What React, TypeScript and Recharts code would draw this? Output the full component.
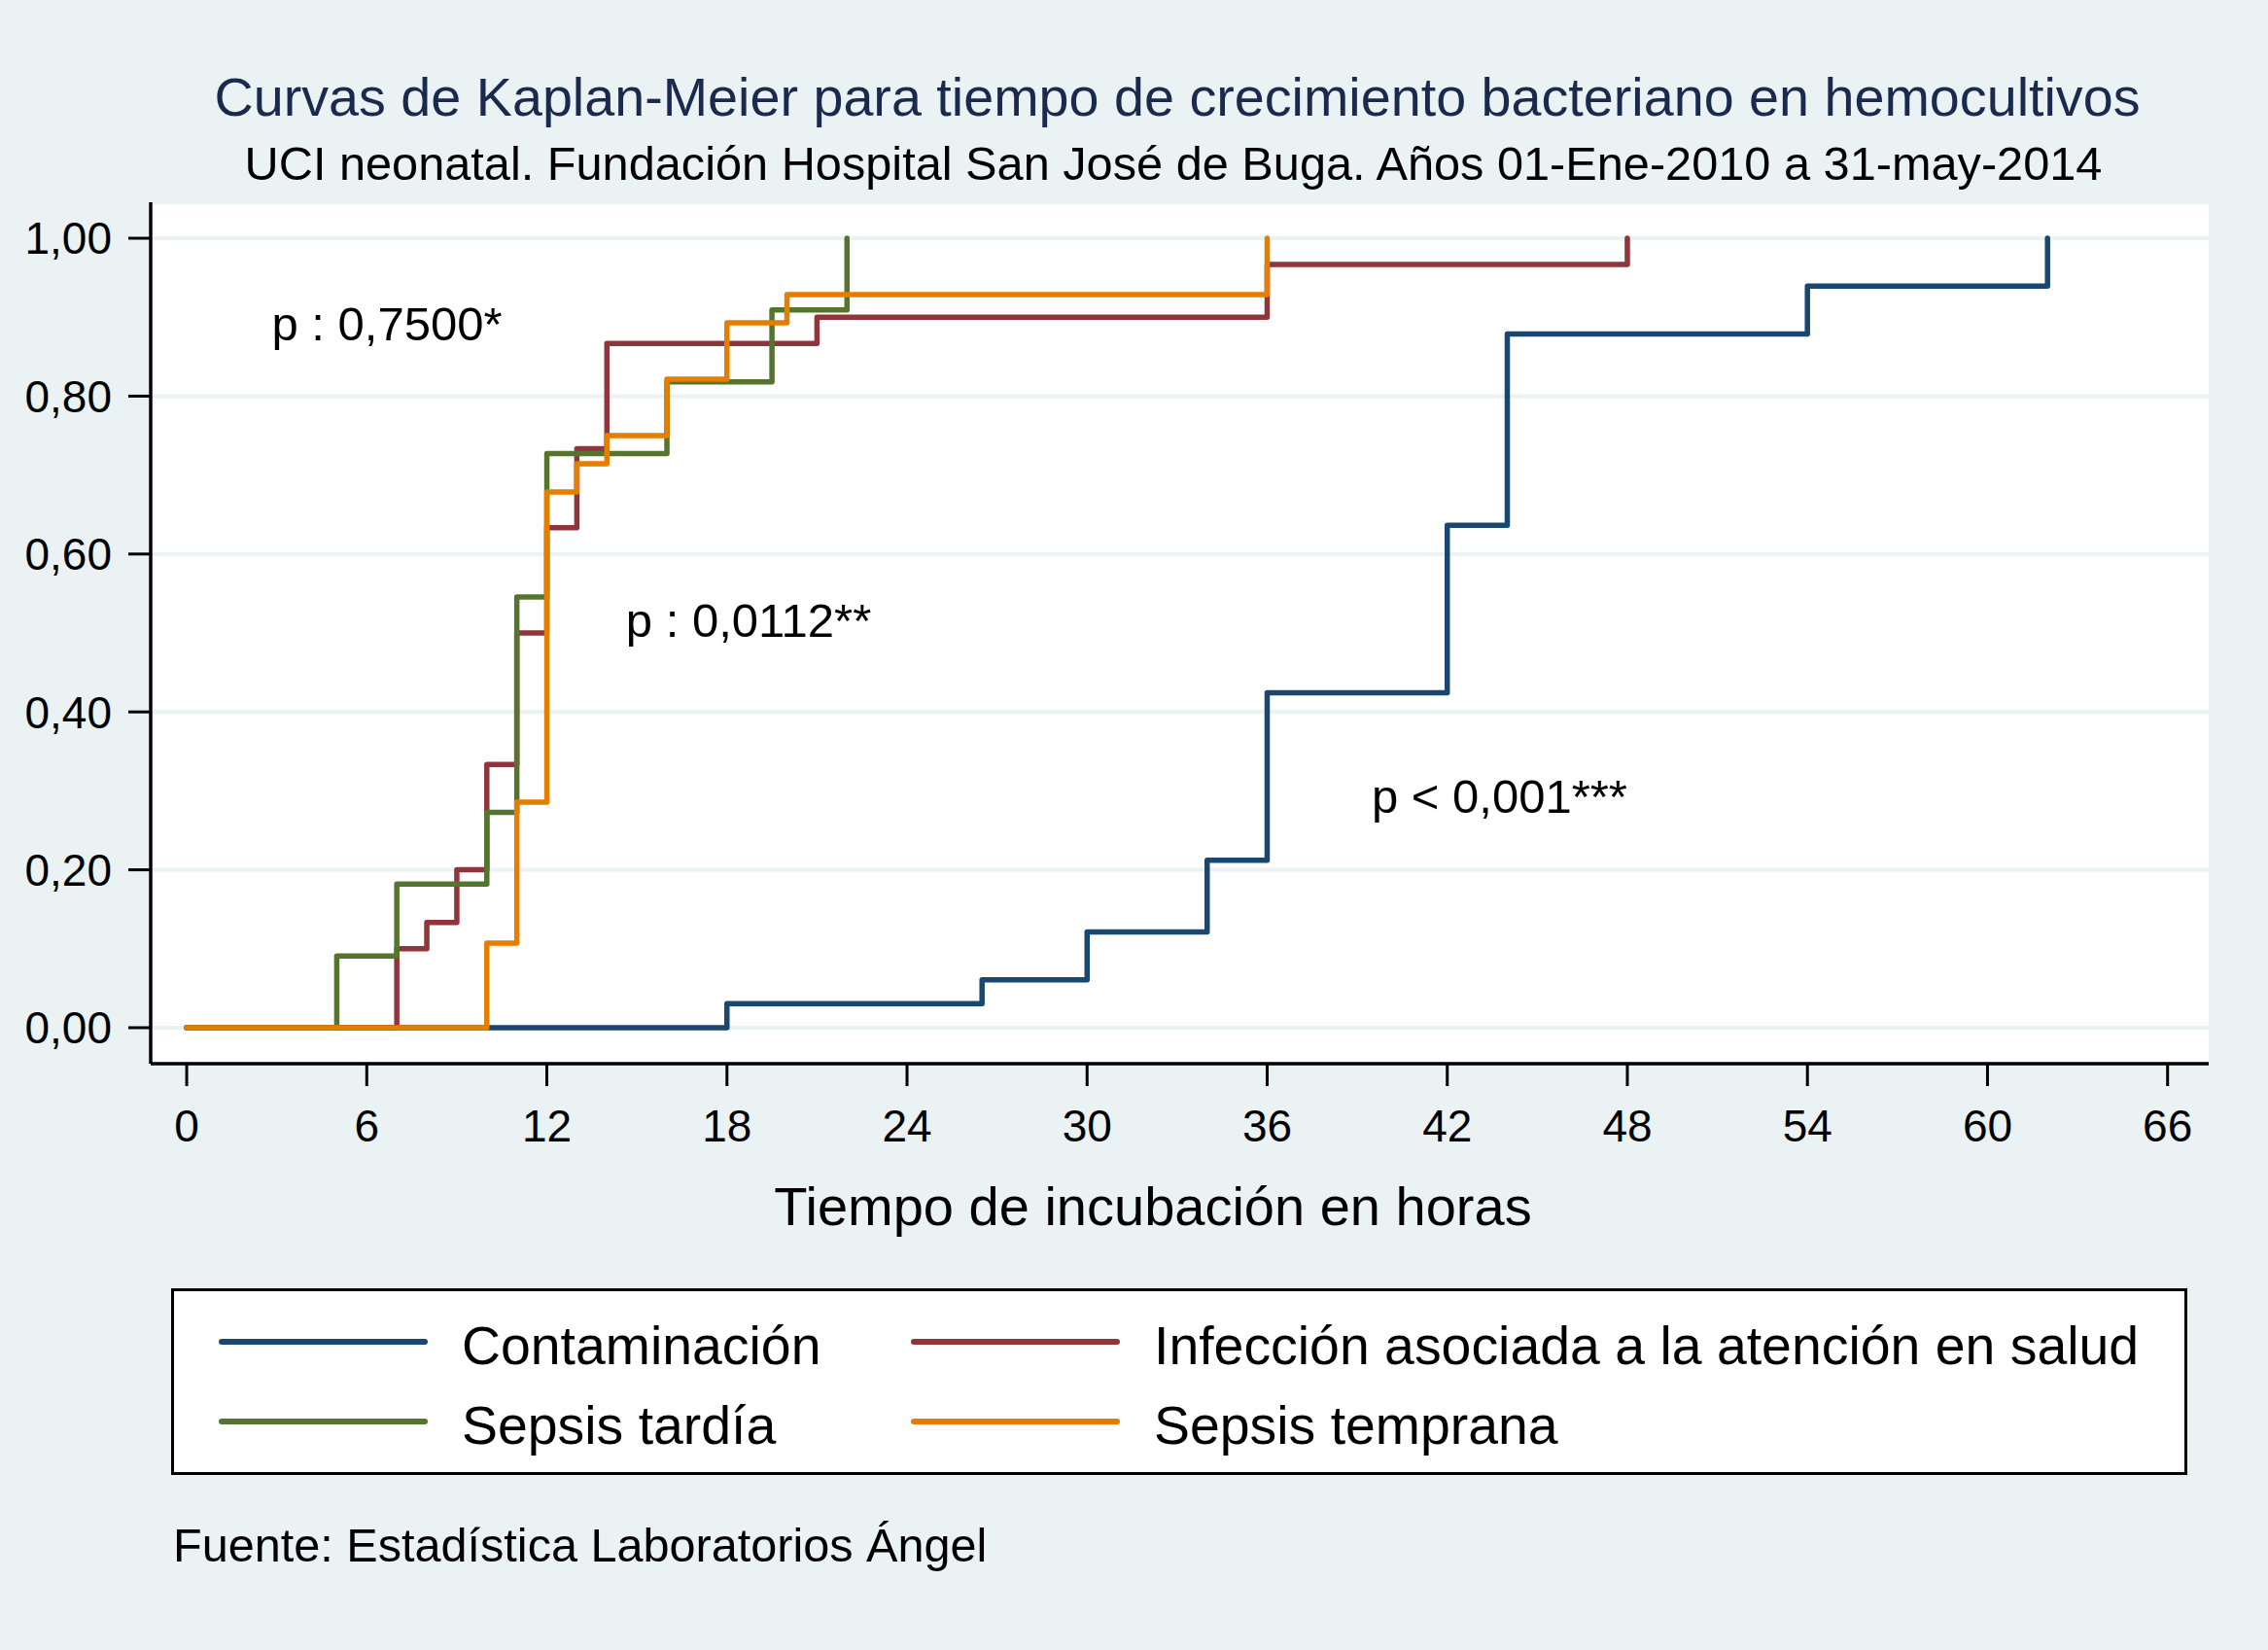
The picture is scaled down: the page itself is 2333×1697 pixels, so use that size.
import { LineChart, Line, XAxis, YAxis, CartesianGrid, ReferenceDot } from "recharts";

const W = 2333;
const H = 1697;
const FONT = '"Liberation Sans", Arial, Helvetica, sans-serif';
const BG = "#eaf2f3";

// hours of incubation at which the cumulative proportion steps up
const contaminacionT = [0, 18, 26.5, 30, 34, 36, 42, 44, 54, 62];
const contaminacionF = [0, 0.0303, 0.0606, 0.1212, 0.2121, 0.4242, 0.6364, 0.8788, 0.9394, 1.0];

const infeccionT = [0, 7, 8, 9, 10, 11, 12, 13, 14, 21, 36, 48];
const infeccionF = [0, 0.1, 0.1333, 0.2, 0.3333, 0.5, 0.6333, 0.7333, 0.8667, 0.9, 0.9667, 1.0];

const tardiaT = [0, 5, 7, 10, 11, 12, 16, 19.5, 22];
const tardiaF = [0, 0.0909, 0.1818, 0.2727, 0.5455, 0.7273, 0.8182, 0.9091, 1.0];

const tempranaT = [0, 10, 11, 12, 13, 14, 16, 18, 20, 36];
const tempranaF = [0, 0.1071, 0.2857, 0.6786, 0.7143, 0.75, 0.8214, 0.8929, 0.9286, 1.0];

const SERIES_NAMES = [
  "Contaminación",
  "Infección asociada a la atención en salud",
  "Sepsis tardía",
  "Sepsis temprana",
];
const SERIES_COLORS = ["#1a476f", "#90353b", "#55752f", "#e37e00"];

const HOUR_TICKS = [0, 6, 12, 18, 24, 30, 36, 42, 48, 54, 60, 66];
const PROB_TICKS = [0, 0.2, 0.4, 0.6, 0.8, 1.0];

const PVAL_TEXT = ["p : 0,7500*", "p : 0,0112**", "p < 0,001***"];
const PVAL_AT: [number, number][] = [
  [2.8, 0.892],
  [14.6, 0.516],
  [39.45, 0.294],
];

const toPoints = (ts: number[], fs: number[]) => ts.map((t, i) => ({ t, f: fs[i] }));

const SERIES = [
  toPoints(contaminacionT, contaminacionF),
  toPoints(infeccionT, infeccionF),
  toPoints(tardiaT, tardiaF),
  toPoints(tempranaT, tempranaF),
];

// place text by horizontal anchor and the vertical middle of its capitals
function TextAt({
  x,
  cy,
  size,
  children,
  center = false,
  color = "#000",
}: {
  x: number;
  cy: number;
  size: number;
  children: React.ReactNode;
  center?: boolean;
  color?: string;
}) {
  return (
    <div
      style={{
        position: "absolute",
        left: x,
        top: cy - 0.49 * size,
        fontSize: size,
        lineHeight: 1,
        color,
        whiteSpace: "nowrap",
        transform: center ? "translateX(-50%)" : undefined,
      }}
    >
      {children}
    </div>
  );
}

function LegendItem({ i, x, cy }: { i: number; x: number; cy: number }) {
  return (
    <>
      <div
        style={{
          position: "absolute",
          left: x,
          top: cy - 2.75,
          width: 215,
          height: 5.5,
          borderRadius: 3,
          background: SERIES_COLORS[i],
        }}
      />
      <TextAt x={x + 250} cy={cy + 4} size={55.4}>
        {SERIES_NAMES[i]}
      </TextAt>
    </>
  );
}

export default function App() {
  return (
    <div
      style={{
        position: "absolute",
        left: 0,
        top: 0,
        width: W,
        height: H,
        background: BG,
        fontFamily: FONT,
        overflow: "hidden",
      }}
    >
      <TextAt x={1211} cy={100} size={55.7} center color="#1a2a4e">
        Curvas de Kaplan-Meier para tiempo de crecimiento bacteriano en hemocultivos
      </TextAt>
      <TextAt x={1207} cy={168} size={48.7} center>
        UCI neonatal. Fundación Hospital San José de Buga. Años 01-Ene-2010 a 31-may-2014
      </TextAt>

      <div style={{ position: "absolute", left: 0, top: 0 }}>
        <LineChart width={W} height={H} margin={{ top: 208, right: 61, bottom: 483, left: 0 }}>
          <CartesianGrid vertical={false} stroke={BG} strokeWidth={4} fill="#ffffff" fillOpacity={1} />
          <XAxis
            type="number"
            dataKey="t"
            domain={[-1.2, 67.37]}
            allowDataOverflow
            ticks={HOUR_TICKS}
            interval={0}
            height={120}
            tickSize={23}
            tickMargin={24}
            tick={{ fontSize: 46, fill: "#000", fontFamily: FONT }}
            axisLine={{ stroke: "#000", strokeWidth: 3.5 }}
            tickLine={{ stroke: "#000", strokeWidth: 3 }}
          />
          <YAxis
            type="number"
            domain={[-0.0456, 1.0456]}
            allowDataOverflow
            ticks={PROB_TICKS}
            interval={0}
            width={155}
            tickSize={23}
            tickMargin={17}
            tick={{ fontSize: 46, fill: "#000", fontFamily: FONT }}
            tickFormatter={(v: number) => v.toFixed(2).replace(".", ",")}
            axisLine={{ stroke: "#000", strokeWidth: 3.5 }}
            tickLine={{ stroke: "#000", strokeWidth: 3 }}
          />
          {SERIES.map((pts, i) => (
            <Line
              key={SERIES_NAMES[i]}
              data={pts}
              dataKey="f"
              type="stepAfter"
              stroke={SERIES_COLORS[i]}
              strokeWidth={5.5}
              strokeLinecap="round"
              strokeLinejoin="round"
              dot={false}
              activeDot={false}
              isAnimationActive={false}
            />
          ))}
          {PVAL_TEXT.map((txt, i) => (
            <ReferenceDot
              key={txt}
              x={PVAL_AT[i][0]}
              y={PVAL_AT[i][1]}
              r={1}
              fill="none"
              stroke="none"
              label={{ value: txt, position: "right", offset: 0, fontSize: 49, fill: "#000", fontFamily: FONT }}
            />
          ))}
        </LineChart>
      </div>

      <TextAt x={1186} cy={1240} size={56} center>
        Tiempo de incubación en horas
      </TextAt>

      <div
        style={{
          position: "absolute",
          left: 176,
          top: 1325,
          width: 2074,
          height: 192,
          boxSizing: "border-box",
          border: "3.5px solid #000",
          background: "#ffffff",
        }}
      />
      <LegendItem i={0} x={225} cy={1380} />
      <LegendItem i={1} x={937} cy={1380} />
      <LegendItem i={2} x={225} cy={1462} />
      <LegendItem i={3} x={937} cy={1462} />

      <TextAt x={178} cy={1589} size={48.6}>
        Fuente: Estadística Laboratorios Ángel
      </TextAt>
    </div>
  );
}
